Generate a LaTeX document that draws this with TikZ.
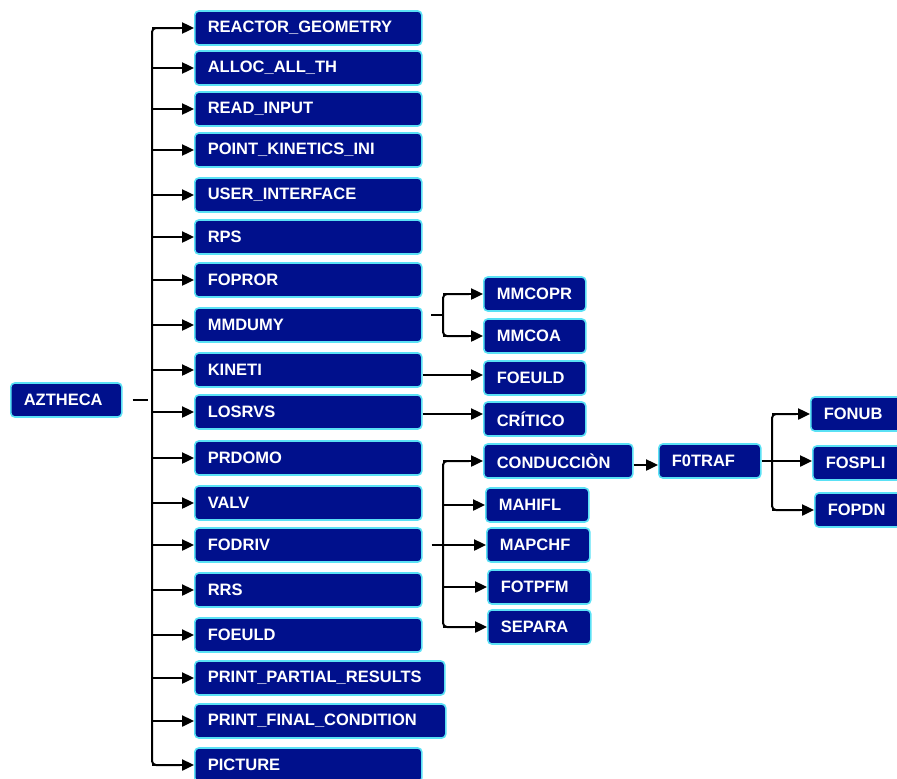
\documentclass[tikz,border=0pt]{standalone}
\usepackage{fontspec}
\setmainfont{Liberation Sans}
\usetikzlibrary{arrows.meta,calc}
\definecolor{boxfill}{RGB}{0,16,140}
\definecolor{boxline}{RGB}{90,225,245}
\tikzset{
  box/.style={draw=boxline, line width=1.6pt, fill=boxfill, rounded corners=4pt,
    text=white, font=\fontsize{16.5}{18}\selectfont\bfseries,
    minimum height=34pt, inner xsep=13pt, inner ysep=0pt, align=left, anchor=west},
  arr/.style={line width=2.4pt, -{Triangle[length=12pt,width=11pt]}},
  bline/.style={line width=2pt, rounded corners=4pt},
  tip/.style={line width=1.6pt},
}
\newcommand{\mybox}[5]{\pgfmathsetmacro\tw{#3-#2-26}\node[box, text width=\tw pt] (#1) at (#2,#4) {#5};}
\begin{document}
\begin{tikzpicture}[x=1pt,y=-1pt]
\useasboundingbox (0,0) rectangle (897,779);
% main column
\mybox{az}{10}{121}{400}{AZTHECA}
\mybox{rg}{194}{421}{28}{REACTOR\_GEOMETRY}
\mybox{alloc}{194}{421}{68}{ALLOC\_ALL\_TH}
\mybox{read}{194}{421}{109}{READ\_INPUT}
\mybox{pki}{194}{421}{150}{POINT\_KINETICS\_INI}
\mybox{ui}{194}{421}{195}{USER\_INTERFACE}
\mybox{rps}{194}{421}{237}{RPS}
\mybox{fopror}{194}{421}{280}{FOPROR}
\mybox{mmdumy}{194}{421}{325}{MMDUMY}
\mybox{kineti}{194}{421}{370}{KINETI}
\mybox{losrvs}{194}{421}{412}{LOSRVS}
\mybox{prdomo}{194}{421}{458}{PRDOMO}
\mybox{valv}{194}{421}{503}{VALV}
\mybox{fodriv}{194}{421}{545}{FODRIV}
\mybox{rrs}{194}{421}{590}{RRS}
\mybox{foeuld}{194}{421}{635}{FOEULD}
\mybox{ppr}{194}{444}{678}{PRINT\_PARTIAL\_RESULTS}
\mybox{pfc}{194}{445}{721}{PRINT\_FINAL\_CONDITION}
\mybox{pic}{194}{421}{765}{PICTURE}
% second level
\mybox{mmcopr}{483}{585}{294}{MMCOPR}
\mybox{mmcoa}{483}{585}{336}{MMCOA}
\mybox{foeuldb}{483}{585}{378}{FOEULD}
\mybox{critico}{483}{585}{419}{CRÍTICO}
\mybox{cond}{483}{632}{461}{CONDUCCIÒN}
\mybox{mahifl}{485}{588}{505}{MAHIFL}
\mybox{mapchf}{486}{589}{545}{MAPCHF}
\mybox{fotpfm}{487}{590}{587}{FOTPFM}
\mybox{separa}{487}{590}{627}{SEPARA}
% third level
\mybox{ftraf}{658}{760}{461}{F0TRAF}
\mybox{fonub}{810}{905}{414}{FONUB}
\mybox{fospli}{812}{905}{463}{FOSPLI}
\mybox{fopdn}{814}{905}{510}{FOPDN}

% main bus
\coordinate (bus) at (152,0);
\draw[bline] ([xshift=-14pt]rg.west) -- (bus |- rg.west) -- (bus |- pic.west) -- ([xshift=-14pt]pic.west);
\foreach \n in {rg,alloc,read,pki,ui,rps,fopror,mmdumy,kineti,losrvs,prdomo,valv,fodriv,rrs,foeuld,ppr,pfc,pic}
  \draw[arr] (bus |- \n.west) -- (\n.west);
\draw[tip] ([xshift=10pt]az.east) -- ([xshift=-4pt]bus |- az.east);

% MMDUMY brace
\coordinate (b1) at (443,0);
\coordinate (m1) at ($(b1 |- mmcopr.west)!0.5!(b1 |- mmcoa.west)$);
\draw[bline] ([xshift=-14pt]mmcopr.west) -- (b1 |- mmcopr.west) -- (b1 |- mmcoa.west) -- ([xshift=-14pt]mmcoa.west);
\draw[arr] (b1 |- mmcopr.west) -- (mmcopr.west);
\draw[arr] (b1 |- mmcoa.west) -- (mmcoa.west);
\draw[tip] ([xshift=-12pt]m1) -- (m1);

% single links
\draw[arr] (kineti.east |- 0,375) -- (foeuldb.west |- 0,375);
\draw[arr] (losrvs.east |- 0,414) -- (critico.west |- 0,414);
\draw[arr] (cond.east |- 0,465) -- (ftraf.west |- 0,465);

% FODRIV group
\draw[bline] ([xshift=-14pt]cond.west) -- (b1 |- cond.west) -- (b1 |- separa.west) -- ([xshift=-14pt]separa.west);
\foreach \n in {cond,mahifl,mapchf,fotpfm,separa}
  \draw[arr] (b1 |- \n.west) -- (\n.west);
\draw[tip] ([xshift=9pt]fodriv.east) -- (b1 |- fodriv.east);

% F0TRAF group
\coordinate (b2) at (772,0);
\draw[bline] ([xshift=-14pt]fonub.west) -- (b2 |- fonub.west) -- (b2 |- fopdn.west) -- ([xshift=-14pt]fopdn.west);
\draw[arr] (b2 |- fonub.west) -- (fonub.west);
\draw[arr] (b2 |- fopdn.west) -- (fopdn.west);
\draw[arr] (ftraf.east) -- (fospli.west |- ftraf.east);
\end{tikzpicture}
\end{document}
